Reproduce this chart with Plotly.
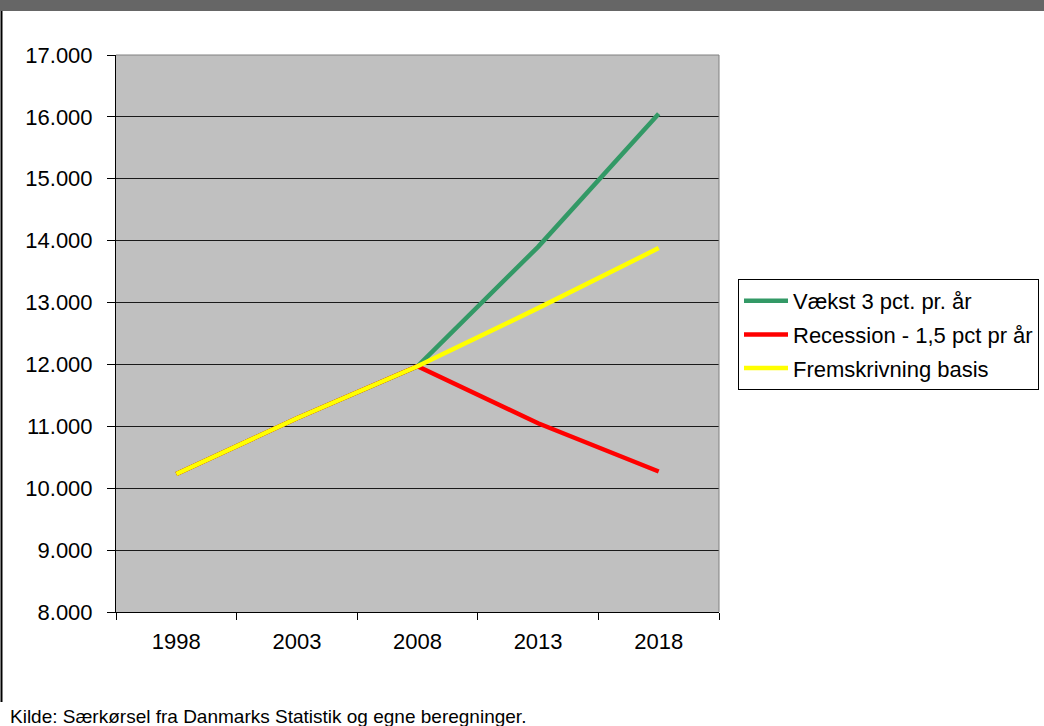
import plotly.graph_objects as go

years = ["1998", "2003", "2008", "2013", "2018"]
vaekst = [10230, 11130, 11970, 13900, 16050]
recession = [10230, 11130, 11970, 11050, 10270]
basis = [10230, 11130, 11970, 12910, 13880]
y_ticks = [8000, 9000, 10000, 11000, 12000, 13000, 14000, 15000, 16000, 17000]
y_tick_labels = ["8.000", "9.000", "10.000", "11.000", "12.000", "13.000", "14.000", "15.000", "16.000", "17.000"]

W, H = 1044, 726
L, R, T, B = 116, 719, 55, 612

def px(x):
    return (x - L) / (R - L)

def py(y):
    return (B - y) / (B - T)

fig = go.Figure()
fig.add_trace(go.Scatter(x=years, y=vaekst, mode="lines", name="Vækst 3 pct. pr. år",
                         legendgroup="a", line=dict(color="#339966", width=4.5)))
fig.add_trace(go.Scatter(x=years, y=recession, mode="lines", name="Recession - 1,5 pct pr år",
                         legendgroup="b", line=dict(color="#FF0000", width=4.5)))
fig.add_trace(go.Scatter(x=years, y=basis, mode="lines", name="Fremskrivning basis",
                         legendgroup="c", line=dict(color="#FFFF00", width=4.5)))

font = "Liberation Sans, Arial, sans-serif"
fig.update_layout(
    width=W, height=H,
    margin=dict(l=L, r=W - R, t=T, b=H - B, autoexpand=False),
    paper_bgcolor="white",
    plot_bgcolor="#C0C0C0",
    font=dict(family=font, size=22, color="black"),
    showlegend=True,
    legend=dict(x=px(738), y=py(279), xanchor="left", yanchor="top",
                bordercolor="black", borderwidth=1, bgcolor="white",
                font=dict(size=22, family=font), tracegroupgap=2,
                itemwidth=44),
    xaxis=dict(type="category", range=[-0.5, 4.5], showgrid=False,
               showline=True, linecolor="black", linewidth=1,
               ticks="outside", ticklen=7, tickcolor="black",
               tickson="boundaries", ticklabelstandoff=10,
               tickfont=dict(size=22, family=font)),
    yaxis=dict(range=[8000, 17000], tickvals=y_ticks, ticktext=y_tick_labels,
               showgrid=True, gridcolor="#1a1a1a", gridwidth=1,
               showline=True, linecolor="black", linewidth=1,
               ticks="outside", ticklen=8, tickcolor="black",
               ticklabelstandoff=10,
               zeroline=False, tickfont=dict(size=22, family=font)),
    shapes=[
        dict(type="rect", xref="paper", yref="paper", x0=px(0), x1=px(W), y0=py(11), y1=py(0),
             fillcolor="#666666", line=dict(width=0), layer="above"),
        dict(type="line", xref="paper", yref="paper", x0=px(1.5), x1=px(1.5), y0=py(11), y1=py(702),
             line=dict(color="black", width=2)),
        dict(type="line", xref="paper", yref="paper", x0=0, x1=1, y0=1, y1=1,
             line=dict(color="#808080", width=1)),
        dict(type="line", xref="paper", yref="paper", x0=1, x1=1, y0=0, y1=1,
             line=dict(color="#808080", width=1)),
    ],
    annotations=[
        dict(text="Kilde: Særkørsel fra Danmarks Statistik og egne beregninger.",
             xref="paper", yref="paper", x=px(8), y=py(704), xanchor="left", yanchor="top",
             showarrow=False, font=dict(size=19, family=font, color="black")),
    ],
)

fig.write_html("out.html", config={"displayModeBar": False},
               post_script="document.body.style.margin='0';document.body.style.overflow='hidden';")
